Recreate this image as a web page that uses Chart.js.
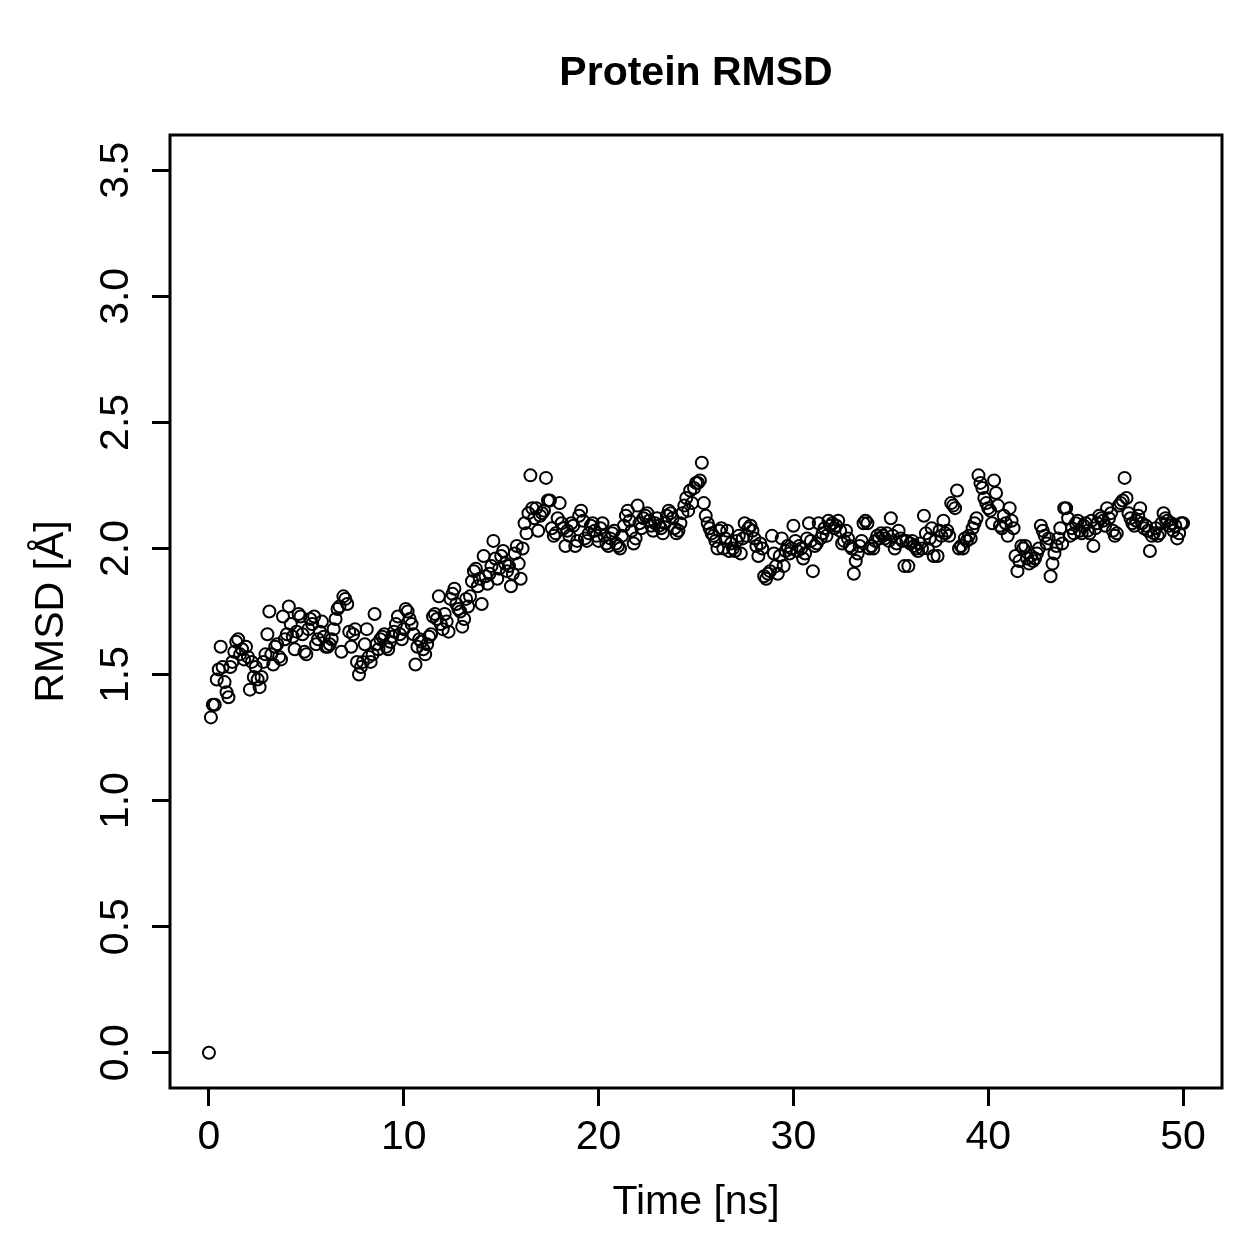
<!DOCTYPE html>
<html>
<head>
<meta charset="utf-8">
<script src="https://cdn.jsdelivr.net/npm/chart.js@4.4.1/dist/chart.umd.min.js"></script>
<style>
html, body { margin: 0; padding: 0; background: #ffffff; }
canvas { display: block; }
</style>
</head>
<body>
<canvas id="c" width="1259" height="1259"></canvas>
<script>
const chartTitle = 'Protein RMSD';
const xAxisTitle = 'Time [ns]';
const yAxisTitle = 'RMSD [Å]';
const timeStepNs = 0.1;
const xTickValues = [0, 10, 20, 30, 40, 50];
const yTickValues = [0.0, 0.5, 1.0, 1.5, 2.0, 2.5, 3.0, 3.5];

const rmsdStart = [0.00];
const rmsd0to10 = [
  1.33, 1.38, 1.38, 1.48, 1.52, 1.61, 1.53, 1.47, 1.43, 1.41,
  1.53, 1.55, 1.59, 1.63, 1.64, 1.58, 1.60, 1.56, 1.61, 1.57,
  1.44, 1.55, 1.49, 1.53, 1.48, 1.45, 1.49, 1.55, 1.58, 1.66,
  1.75, 1.58, 1.54, 1.61, 1.62, 1.57, 1.56, 1.73, 1.64, 1.66,
  1.77, 1.70, 1.65, 1.60, 1.67, 1.74, 1.73, 1.66, 1.59, 1.58,
  1.68, 1.72, 1.70, 1.73, 1.62, 1.64, 1.67, 1.71, 1.65, 1.61,
  1.61, 1.62, 1.64, 1.68, 1.72, 1.76, 1.77, 1.59, 1.81, 1.80,
  1.78, 1.67, 1.61, 1.66, 1.68, 1.55, 1.50, 1.53, 1.55, 1.62,
  1.68, 1.57, 1.55, 1.58, 1.74, 1.62, 1.60, 1.64, 1.65, 1.66,
  1.61, 1.60, 1.63, 1.65, 1.67, 1.70, 1.73, 1.66, 1.64, 1.68
];
const rmsd10to20 = [
  1.76, 1.75, 1.72, 1.70, 1.66, 1.54, 1.61, 1.64, 1.63, 1.60,
  1.58, 1.62, 1.65, 1.66, 1.73, 1.74, 1.72, 1.81, 1.70, 1.68,
  1.74, 1.71, 1.67, 1.80, 1.82, 1.84, 1.78, 1.76, 1.75, 1.69,
  1.72, 1.80, 1.77, 1.81, 1.87, 1.91, 1.92, 1.85, 1.88, 1.78,
  1.97, 1.89, 1.86, 1.90, 1.93, 2.03, 1.96, 1.88, 1.92, 1.97,
  1.99, 1.94, 1.91, 1.93, 1.85, 1.90, 1.98, 2.01, 1.94, 1.88,
  2.00, 2.10, 2.06, 2.14, 2.29, 2.16, 2.12, 2.16, 2.07, 2.13,
  2.14, 2.15, 2.28, 2.19, 2.19, 2.08, 2.05, 2.06, 2.12, 2.18,
  2.10, 2.08, 2.01, 2.07, 2.05, 2.10, 2.09, 2.01, 2.03, 2.13,
  2.15, 2.11, 2.04, 2.03, 2.06, 2.09, 2.10, 2.07, 2.05, 2.03
];
const rmsd20to30 = [
  2.08, 2.10, 2.05, 2.02, 2.01, 2.04, 2.06, 2.07, 2.02, 2.01,
  2.00, 2.05, 2.09, 2.13, 2.15, 2.11, 2.07, 2.02, 2.04, 2.17,
  2.10, 2.08, 2.12, 2.13, 2.14, 2.11, 2.09, 2.07, 2.10, 2.12,
  2.09, 2.08, 2.06, 2.10, 2.13, 2.15, 2.14, 2.12, 2.08, 2.06,
  2.07, 2.10, 2.14, 2.17, 2.20, 2.15, 2.23, 2.18, 2.24, 2.26,
  2.26, 2.27, 2.34, 2.18, 2.13, 2.10, 2.08, 2.06, 2.05, 2.03,
  2.00, 2.07, 2.08, 2.00, 2.04, 2.07, 1.99, 2.02, 2.00, 1.99,
  2.03, 2.05, 1.98, 2.04, 2.10, 2.05, 2.08, 2.09, 2.07, 2.04,
  2.01, 1.97, 2.02, 2.00, 1.89, 1.88, 1.90, 1.91, 2.05, 1.98,
  1.93, 1.90, 1.97, 2.04, 1.93, 1.99, 2.01, 1.98, 2.00, 2.09
];
const rmsd30to40 = [
  2.03, 1.99, 2.01, 2.00, 1.96, 1.98, 2.04, 2.10, 2.03, 1.91,
  2.01, 2.02, 2.10, 2.04, 2.06, 2.08, 2.05, 2.11, 2.09, 2.10,
  2.08, 2.09, 2.11, 2.07, 2.02, 2.03, 2.07, 2.04, 2.01, 2.00,
  1.90, 1.95, 1.98, 2.01, 2.03, 2.10, 2.11, 2.10, 2.00, 2.01,
  2.00, 2.03, 2.05, 2.04, 2.06, 2.05, 2.04, 2.06, 2.03, 2.12,
  2.05, 2.00, 2.02, 2.07, 2.04, 2.03, 1.93, 2.03, 1.93, 2.02,
  2.03, 2.01, 2.00, 1.99, 2.02, 2.00, 2.13, 2.06, 2.00, 2.04,
  2.08, 1.97, 2.03, 1.97, 2.07, 2.05, 2.11, 2.06, 2.07, 2.05,
  2.18, 2.17, 2.16, 2.23, 2.00, 2.01, 2.00, 2.04, 2.03, 2.05,
  2.04, 2.08, 2.10, 2.12, 2.29, 2.26, 2.24, 2.20, 2.18, 2.16
];
const rmsd40to50 = [
  2.15, 2.10, 2.27, 2.22, 2.17, 2.09, 2.08, 2.13, 2.10, 2.05,
  2.16, 2.11, 2.08, 1.97, 1.91, 1.95, 2.01, 2.00, 2.01, 1.96,
  1.94, 1.97, 1.95, 1.96, 1.98, 2.00, 2.09, 2.07, 2.05, 2.02,
  2.04, 1.89, 1.94, 1.98, 2.01, 2.04, 2.08, 2.02, 2.16, 2.16,
  2.12, 2.05, 2.08, 2.06, 2.10, 2.11, 2.07, 2.06, 2.09, 2.10,
  2.07, 2.06, 2.11, 2.01, 2.08, 2.10, 2.13, 2.12, 2.11, 2.09,
  2.16, 2.12, 2.14, 2.07, 2.05, 2.06, 2.17, 2.18, 2.19, 2.28,
  2.20, 2.14, 2.12, 2.10, 2.09, 2.11, 2.13, 2.16, 2.10, 2.08,
  2.09, 2.07, 1.99, 2.05, 2.06, 2.08, 2.05, 2.06, 2.10, 2.14,
  2.12, 2.11, 2.09, 2.10, 2.07, 2.09, 2.04, 2.06, 2.10, 2.10
];

const rmsd = [].concat(rmsdStart, rmsd0to10, rmsd10to20, rmsd20to30, rmsd30to40, rmsd40to50);
const points = rmsd.map((v, i) => ({ x: Math.round(i * timeStepNs * 10) / 10, y: v }));

const FONT = '"Liberation Sans", Arial, Helvetica, sans-serif';

const framePlugin = {
  id: 'frameAndTitle',
  afterDatasetsDraw(chart) {
    const { ctx, chartArea: a } = chart;
    ctx.save();
    ctx.strokeStyle = '#000';
    ctx.lineWidth = 3;
    ctx.strokeRect(a.left, a.top, a.right - a.left, a.bottom - a.top);
    ctx.fillStyle = '#000';
    ctx.font = 'bold 41px ' + FONT;
    ctx.textAlign = 'center';
    ctx.textBaseline = 'alphabetic';
    ctx.fillText(chartTitle, (a.left + a.right) / 2, 85);
    ctx.restore();
  }
};

new Chart(document.getElementById('c'), {
  type: 'scatter',
  data: {
    datasets: [{
      data: points,
      pointStyle: 'circle',
      pointRadius: 6,
      pointHoverRadius: 6,
      pointBorderWidth: 2,
      pointBorderColor: '#000',
      pointBackgroundColor: 'rgba(0,0,0,0)',
      showLine: false
    }]
  },
  options: {
    responsive: false,
    animation: false,
    events: [],
    layout: { padding: { top: 135, right: 37, left: 0, bottom: 0 } },
    plugins: {
      legend: { display: false },
      title: { display: false },
      tooltip: { enabled: false }
    },
    scales: {
      x: {
        type: 'linear',
        position: 'bottom',
        min: -2,
        max: 52,
        afterBuildTicks: (scale) => { scale.ticks = xTickValues.map(v => ({ value: v })); },
        afterFit: (scale) => { scale.height = 171; },
        border: { display: false },
        grid: { display: true, drawOnChartArea: false, drawTicks: true, tickLength: 18, lineWidth: 3, color: '#000' },
        ticks: {
          autoSkip: false,
          maxRotation: 0,
          minRotation: 0,
          padding: 7,
          color: '#000',
          font: { family: FONT, size: 41 },
          callback: (v) => String(v)
        },
        title: {
          display: true,
          text: xAxisTitle,
          color: '#000',
          font: { family: FONT, size: 41 },
          padding: { top: 0, bottom: 32 }
        }
      },
      y: {
        type: 'linear',
        position: 'left',
        min: -0.14,
        max: 3.64,
        afterBuildTicks: (scale) => { scale.ticks = yTickValues.map(v => ({ value: v })); },
        afterFit: (scale) => { scale.width = 170; },
        border: { display: false },
        grid: { display: true, drawOnChartArea: false, drawTicks: true, tickLength: 18, lineWidth: 3, color: '#000' },
        ticks: {
          autoSkip: false,
          minRotation: 90,
          maxRotation: 90,
          crossAlign: 'center',
          padding: 7,
          color: '#000',
          font: { family: FONT, size: 41 },
          callback: (v) => Number(v).toFixed(1)
        },
        title: {
          display: true,
          text: yAxisTitle,
          color: '#000',
          font: { family: FONT, size: 41 },
          padding: { top: 27, bottom: 0 }
        }
      }
    }
  },
  plugins: [framePlugin]
});
</script>
</body>
</html>
